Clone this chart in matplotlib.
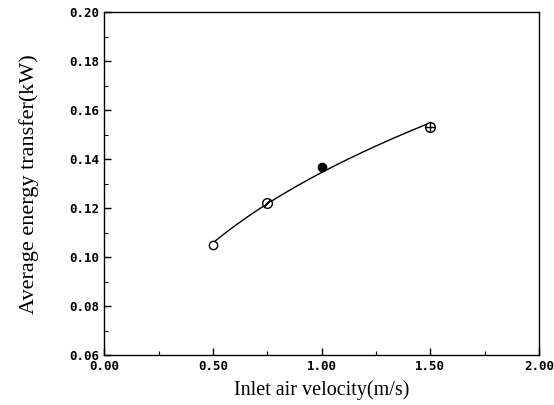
import numpy as np
import matplotlib
matplotlib.use("Agg")
import matplotlib.pyplot as plt
from matplotlib.ticker import MultipleLocator, FormatStrFormatter

velocity = [0.50, 0.75, 1.00, 1.50]
energy = [0.105, 0.122, 0.137, 0.153]

fig = plt.figure(figsize=(5.54, 4.05), dpi=100)
ax = fig.add_axes([0.188, 0.123, 0.785, 0.847])

# smooth power-law fitted curve through the points
b, loga = np.polyfit(np.log(velocity), np.log(energy), 1)
xs = np.linspace(min(velocity), max(velocity), 200)
ax.plot(xs, np.exp(loga) * xs ** b, color="black", lw=1.0, zorder=2)

ms = 6
# open circle
ax.plot(velocity[0], energy[0], "o", mfc="white", mec="black", ms=ms, mew=1.0, zorder=3)
# circle with slash
ax.plot(velocity[1], energy[1], "o", mfc="white", mec="black", ms=ms + 1, mew=1.0, zorder=3)
ax.plot(velocity[1], energy[1], marker=(2, 2, -45), color="black", ms=ms, mew=1.0, zorder=4)
# filled circle
ax.plot(velocity[2], energy[2], "o", mfc="black", mec="black", ms=ms, mew=1.0, zorder=3)
# circle with plus
ax.plot(velocity[3], energy[3], "o", mfc="white", mec="black", ms=ms + 1, mew=1.0, zorder=3)
ax.plot(velocity[3], energy[3], "+", color="black", ms=ms + 1, mew=1.0, zorder=4)

ax.set_xlim(0.0, 2.0)
ax.set_ylim(0.06, 0.20)
ax.xaxis.set_major_locator(MultipleLocator(0.5))
ax.xaxis.set_minor_locator(MultipleLocator(0.25))
ax.yaxis.set_major_locator(MultipleLocator(0.02))
ax.yaxis.set_minor_locator(MultipleLocator(0.01))
ax.xaxis.set_major_formatter(FormatStrFormatter("%.2f"))
ax.yaxis.set_major_formatter(FormatStrFormatter("%.2f"))

ax.tick_params(axis="both", which="major", direction="in", length=5, width=1.0,
               top=False, right=False, labelsize=9)
ax.tick_params(axis="both", which="minor", direction="in", length=3, width=0.8,
               top=False, right=False)
for lab in ax.get_xticklabels() + ax.get_yticklabels():
    lab.set_fontfamily("DejaVu Sans Mono")
    lab.set_fontweight("bold")

for sp in ax.spines.values():
    sp.set_linewidth(1.0)

ax.set_xlabel("Inlet air velocity(m/s)", fontfamily="Liberation Serif", fontsize=14.5, labelpad=5)
ax.set_ylabel("Average energy transfer(kW)", fontfamily="Liberation Serif", fontsize=16, labelpad=22)

fig.savefig("out.png", dpi=100)
